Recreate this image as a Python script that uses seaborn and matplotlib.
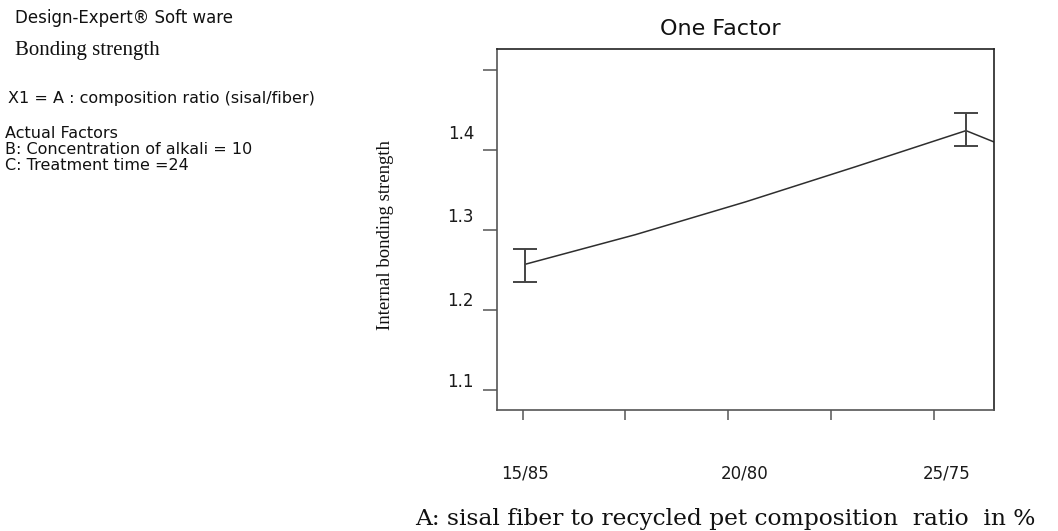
import matplotlib
matplotlib.use("Agg")
import matplotlib.pyplot as plt
import seaborn as sns
import numpy as np
import pandas as pd

# ---- data ----
ratio_x = [15.0, 17.5, 20.0, 22.5, 25.0, 25.63]          # sisal fraction (%)
bond_strength = [1.257, 1.294, 1.335, 1.379, 1.424, 1.410]
err_x = [15.0, 25.0]
err_center = [1.257, 1.424]
err_low = [1.235, 1.405]
err_high = [1.276, 1.446]

x_tick_marks = [14.95, 17.27, 19.60, 21.94, 24.27]
x_label_pos = [15.0, 19.97, 24.57]
x_labels = ["15/85", "20/80", "25/75"]

y_tick_marks = [1.1, 1.2, 1.3, 1.4, 1.5]
y_label_pos = [1.1125, 1.2138, 1.3188, 1.4225]
y_labels = ["1.1", "1.2", "1.3", "1.4"]

sns.set_theme(style="white")
plt.rcParams["font.family"] = ["DejaVu Sans"]

W, H = 1058, 531
fig = plt.figure(figsize=(W / 100, H / 100), dpi=100)
ax = fig.add_axes([497 / W, 1 - 410 / H, (994 - 497) / W, (410 - 49) / H])

df = pd.DataFrame({"ratio": ratio_x, "strength": bond_strength})
sns.lineplot(data=df, x="ratio", y="strength", ax=ax, color="#2e2e2e",
             linewidth=1.1, sort=False, estimator=None)

c = np.array(err_center)
yerr = np.vstack([c - np.array(err_low), np.array(err_high) - c])
ax.errorbar(err_x, err_center, yerr=yerr, fmt="none", ecolor="#444444",
            elinewidth=1.4, capsize=8.3, capthick=1.4)

ax.set_xlim(14.365, 25.635)
ax.set_ylim(1.075, 1.526)

# major ticks: marks only
ax.set_xticks(x_tick_marks)
ax.set_xticklabels([])
ax.set_yticks(y_tick_marks)
ax.set_yticklabels([])
ax.tick_params(axis="x", which="major", direction="out", length=7.5, width=1.1,
               color="#555555", bottom=True)
ax.tick_params(axis="y", which="major", direction="out", length=10, width=1.1,
               color="#555555", left=True)

# minor ticks: labels only
ax.set_xticks(x_label_pos, minor=True)
ax.set_xticklabels(x_labels, minor=True)
ax.set_yticks(y_label_pos, minor=True)
ax.set_yticklabels(y_labels, minor=True)
ax.tick_params(axis="x", which="minor", length=0, pad=39, labelsize=12,
               labelcolor="#1a1a1a", bottom=True)
ax.tick_params(axis="y", which="minor", length=0, pad=16.5, labelsize=12,
               labelcolor="#1a1a1a", left=True)

ax.set_xlabel("")
ax.set_ylabel("")

for side in ["left", "bottom"]:
    ax.spines[side].set_color("#555555")
    ax.spines[side].set_linewidth(1.2)
for side in ["top", "right"]:
    ax.spines[side].set_color("#222222")
    ax.spines[side].set_linewidth(1.2)

def fx(px):
    return px / W

def fy(py):
    return 1 - py / H

fig.text(fx(720), fy(29), "One Factor", ha="center", va="center",
         fontsize=16, color="#111111")

fig.text(fx(385), fy(235), "Internal bonding strength", rotation=90,
         ha="center", va="center", fontsize=13.5, family="Liberation Serif",
         color="#111111")

fig.text(fx(415), fy(519), "A: sisal fiber to recycled pet composition  ratio  in %",
         ha="left", va="center", fontsize=16.8, family="DejaVu Serif",
         color="#111111")

fig.text(fx(15), fy(18), "Design-Expert\u00ae Soft ware", ha="left", va="center",
         fontsize=12, color="#111111")
fig.text(fx(15), fy(50), "Bonding strength", ha="left", va="center",
         fontsize=15, family="Liberation Serif", color="#111111")
fig.text(fx(8), fy(99), "X1 = A : composition ratio (sisal/fiber)", ha="left",
         va="center", fontsize=11.5, color="#111111")
fig.text(fx(5), fy(133), "Actual Factors", ha="left", va="center",
         fontsize=11.5, color="#111111")
fig.text(fx(5), fy(149), "B: Concentration of alkali = 10", ha="left",
         va="center", fontsize=11.5, color="#111111")
fig.text(fx(5), fy(165), "C: Treatment time =24", ha="left", va="center",
         fontsize=11.5, color="#111111")

fig.savefig("out.png", dpi=100, facecolor="white")
